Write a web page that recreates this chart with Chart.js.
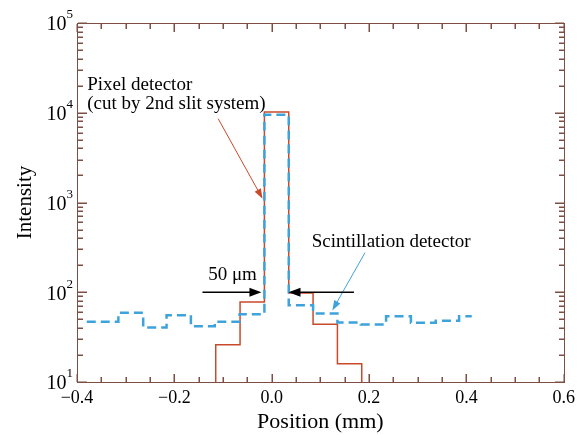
<!DOCTYPE html>
<html>
<head>
<meta charset="utf-8">
<script src="https://cdn.jsdelivr.net/npm/chart.js@4.4.1/dist/chart.umd.min.js"></script>
<style>
  body { margin: 0; background: #fff; }
  #wrap { width: 580px; height: 435px; }
</style>
</head>
<body>
<div id="wrap"><canvas id="grafico"></canvas></div>
<script>
// bin edges (mm) and counts
let pixelEdges = [-0.115, -0.065, -0.015, 0.035, 0.085, 0.135, 0.185];
let pixelCounts = [26, 78, 10200, 98, 44, 16];

let scintEdges = [-0.38, -0.315, -0.264, -0.216, -0.166, -0.117, -0.066, -0.015,
  0.035, 0.085, 0.135, 0.183, 0.235, 0.286, 0.337, 0.385, 0.411];
let scintCounts = [47, 59, 40.5, 55.5, 41.8, 47, 57, 9500,
  71.7, 58, 46, 43.8, 54, 45.6, 48, 54];

let xTicks = [-0.4, -0.2, 0.0, 0.2, 0.4, 0.6];
let yTicks = [1e1, 1e2, 1e3, 1e4, 1e5];

const serif = "'Liberation Serif', 'Times New Roman', serif";
const axisColor = '#7e4e44';
const redColor = '#c94a2a';
const blueColor = '#3ea3da';

// histogram outline: corners of every bin
function steps(edges, counts, floor) {
  let pts = [];
  if (floor) pts.push({ x: edges[0], y: floor });
  counts.forEach((c, i) => {
    pts.push({ x: edges[i], y: c });
    pts.push({ x: edges[i + 1], y: c });
  });
  if (floor) pts.push({ x: edges[edges.length - 1], y: floor });
  return pts;
}

function esMayor(v) {
  return xTicks.some(t => Math.abs(t - v) < 1e-6);
}

function arrow(ctx, x1, y1, x2, y2, len, half, color, width) {
  let ang = Math.atan2(y2 - y1, x2 - x1);
  ctx.strokeStyle = color;
  ctx.fillStyle = color;
  ctx.lineWidth = width;
  ctx.beginPath();
  ctx.moveTo(x1, y1);
  ctx.lineTo(x2 - Math.cos(ang) * len * 0.8, y2 - Math.sin(ang) * len * 0.8);
  ctx.stroke();
  ctx.beginPath();
  ctx.moveTo(x2, y2);
  ctx.lineTo(x2 - Math.cos(ang) * len - Math.sin(ang) * half, y2 - Math.sin(ang) * len + Math.cos(ang) * half);
  ctx.lineTo(x2 - Math.cos(ang) * len + Math.sin(ang) * half, y2 - Math.sin(ang) * len - Math.cos(ang) * half);
  ctx.closePath();
  ctx.fill();
}

const marcos = {
  id: 'marcos',
  afterDraw(chart) {
    const { ctx, chartArea: a, scales: { x, y } } = chart;
    const L = Math.round(a.left), R = Math.round(a.right);
    const T = Math.round(a.top), B = Math.round(a.bottom);
    ctx.save();
    ctx.setLineDash([]);
    ctx.strokeStyle = axisColor;
    ctx.lineWidth = 1;
    ctx.strokeRect(L + 0.5, T + 0.5, R - L, B - T);

    // inward ticks on all four sides
    ctx.fillStyle = axisColor;
    for (let i = 0; i <= 20; i++) {
      let v = -0.4 + i * 0.05;
      let px = Math.round(x.getPixelForValue(v));
      let len = esMayor(v) ? 8 : 5;
      ctx.fillRect(px - 0.5, B - len, 1.5, len);
      ctx.fillRect(px - 0.5, T + 1, 1.5, len);
    }
    yTicks.forEach(d => {
      for (let k = 1; k <= 9; k++) {
        let v = d * k;
        if (v > y.max) break;
        let py = Math.round(y.getPixelForValue(v));
        let len = k === 1 ? 9 : 5;
        ctx.fillRect(L + 1, py - 0.5, len, 1.5);
        ctx.fillRect(R - len, py - 0.5, len, 1.5);
      }
    });

    // y labels 10^n
    ctx.fillStyle = '#000';
    ctx.textBaseline = 'middle';
    yTicks.forEach(v => {
      let py = y.getPixelForValue(v);
      let exp = String(Math.round(Math.log10(v)));
      ctx.font = '13px ' + serif;
      let ew = ctx.measureText(exp).width;
      ctx.textAlign = 'left';
      ctx.fillText(exp, a.left - 4 - ew, py - 8);
      ctx.font = '20px ' + serif;
      ctx.textAlign = 'right';
      ctx.fillText('10', a.left - 4 - ew, py + 2);
    });

    // annotations
    ctx.font = '19px ' + serif;
    ctx.textAlign = 'left';
    ctx.fillText('Pixel detector', x.getPixelForValue(-0.379), y.getPixelForValue(20560));
    ctx.fillText('(cut by 2nd slit system)', x.getPixelForValue(-0.379), y.getPixelForValue(12600));
    ctx.fillText('Scintillation detector', x.getPixelForValue(0.0823), y.getPixelForValue(359));
    ctx.fillText('50 \u03bcm', x.getPixelForValue(-0.1305), y.getPixelForValue(157));

    arrow(ctx, x.getPixelForValue(-0.110), y.getPixelForValue(8590),
      x.getPixelForValue(-0.0187), y.getPixelForValue(1100), 10, 3.5, redColor, 1);
    arrow(ctx, x.getPixelForValue(0.1917), y.getPixelForValue(276),
      x.getPixelForValue(0.1246), y.getPixelForValue(62.8), 10, 3.5, blueColor, 1);
    arrow(ctx, x.getPixelForValue(-0.1422), y.getPixelForValue(100),
      x.getPixelForValue(-0.0211), y.getPixelForValue(100), 12, 4.5, '#000', 1.5);
    arrow(ctx, x.getPixelForValue(0.169), y.getPixelForValue(100),
      x.getPixelForValue(0.0345), y.getPixelForValue(100), 12, 4.5, '#000', 1.5);
    ctx.restore();
  }
};

Chart.defaults.font.family = serif;
Chart.defaults.color = '#000';

const ctx = document.getElementById('grafico').getContext('2d');
let chart = new Chart(ctx, {
  type: 'line',
  data: {
    datasets: [{
      label: 'Scintillation detector',
      data: steps(scintEdges, scintCounts, null),
      borderColor: blueColor,
      borderWidth: 2.5,
      borderDash: [9, 5],
      pointRadius: 0,
      fill: false,
      order: 0
    }, {
      label: 'Pixel detector',
      data: steps(pixelEdges, pixelCounts, 10),
      borderColor: redColor,
      borderWidth: 1.5,
      pointRadius: 0,
      fill: false,
      order: 1
    }]
  },
  options: {
    responsive: true,
    maintainAspectRatio: false,
    animation: false,
    layout: { padding: { left: 0, right: 15, top: 23, bottom: 0 } },
    plugins: {
      legend: { display: false },
      tooltip: { enabled: false }
    },
    scales: {
      x: {
        type: 'linear',
        min: -0.4,
        max: 0.6,
        grid: { display: false, drawTicks: false },
        border: { display: false },
        ticks: {
          stepSize: 0.05,
          autoSkip: false,
          maxRotation: 0,
          padding: 5,
          font: { size: 18 },
          callback: v => esMayor(v) ? (v < 0 ? '\u2212' : '') + Math.abs(v).toFixed(1) : ''
        },
        title: {
          display: true,
          text: 'Position (mm)',
          font: { size: 22 },
          padding: { top: 0, bottom: 0 }
        },
        afterFit: s => { s.height = 53; }
      },
      y: {
        type: 'logarithmic',
        min: 10,
        max: 100000,
        grid: { display: false, drawTicks: false },
        border: { display: false },
        ticks: { display: false },
        title: {
          display: true,
          text: 'Intensity',
          font: { size: 21 },
          padding: { top: 13, bottom: 0 }
        },
        afterFit: s => { s.width = 77; }
      }
    }
  },
  plugins: [marcos]
});
</script>
</body>
</html>
